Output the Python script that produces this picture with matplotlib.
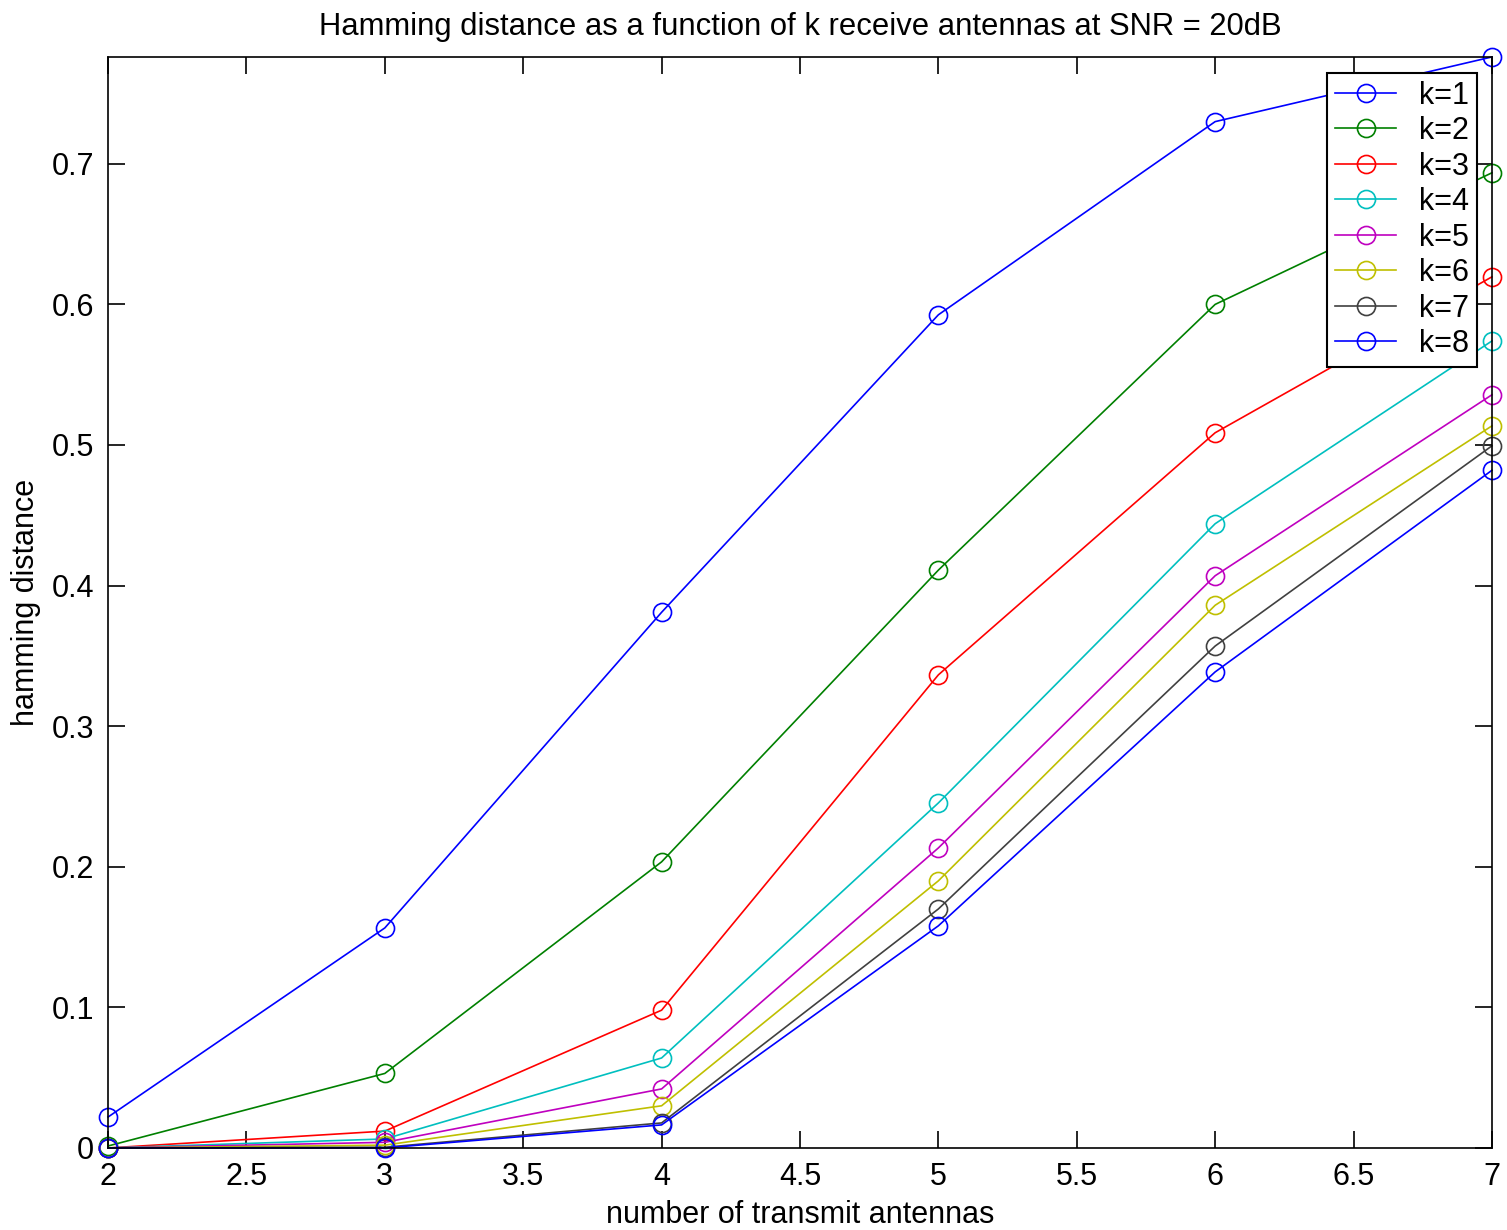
import matplotlib
matplotlib.use('Agg')
import matplotlib.pyplot as plt
from matplotlib.ticker import FormatStrFormatter

plt.rcParams['font.family'] = ['Liberation Sans', 'DejaVu Sans']

# number of transmit antennas
n_tx = [2, 3, 4, 5, 6, 7]

# hamming distance for k receive antennas
k1 = [0.022, 0.1565, 0.381, 0.5926, 0.730, 0.776]
k2 = [0.0014, 0.053, 0.2035, 0.411, 0.600, 0.6936]
k3 = [0.0, 0.012, 0.098, 0.3365, 0.5087, 0.6196]
k4 = [0.0, 0.0064, 0.064, 0.2454, 0.444, 0.574]
k5 = [0.0, 0.004, 0.042, 0.2134, 0.407, 0.5357]
k6 = [0.0, 0.002, 0.030, 0.190, 0.386, 0.5136]
k7 = [0.0, 0.0005, 0.0178, 0.170, 0.357, 0.4994]
k8 = [0.0, 0.0, 0.0164, 0.158, 0.3386, 0.482]

series = [k1, k2, k3, k4, k5, k6, k7, k8]
labels = ['k=%d' % i for i in range(1, 9)]
colors = ['#0000ff', '#008000', '#ff0000', '#00bfbf',
          '#bf00bf', '#bfbf00', '#404040', '#0000ff']

fig = plt.figure(figsize=(15.07, 12.3), dpi=100)
ax = fig.add_axes([0.0717, 0.0667, 0.9183, 0.887])

for y, lab, c in zip(series, labels, colors):
    ax.plot(n_tx, y, '-o', color=c, mfc='none', mec=c, ms=13, lw=1.2,
            mew=1.2, label=lab, clip_on=False)

ax.set_xlim(2, 7)
ax.set_ylim(0, 0.776)
ax.set_xticks([2, 2.5, 3, 3.5, 4, 4.5, 5, 5.5, 6, 6.5, 7])
ax.set_yticks([0, 0.1, 0.2, 0.3, 0.4, 0.5, 0.6, 0.7])
ax.xaxis.set_major_formatter(FormatStrFormatter('%g'))
ax.yaxis.set_major_formatter(FormatStrFormatter('%g'))
ax.tick_params(direction='in', top=True, right=True, length=12, width=1.2,
               labelsize=22, pad=10)
for s in ax.spines.values():
    s.set_linewidth(1.2)

ax.set_title('Hamming distance as a function of k receive antennas at SNR = 20dB',
             fontsize=22.3, pad=16)
ax.set_xlabel('number of transmit antennas', fontsize=22, labelpad=6)
ax.set_ylabel('hamming distance', fontsize=22, labelpad=8)

leg = ax.legend(loc='upper right', bbox_to_anchor=(0.989, 0.9853),
                fontsize=22, fancybox=False, framealpha=1, edgecolor='black',
                handlelength=2.0, borderpad=0.25, labelspacing=0.18,
                handletextpad=0.75, borderaxespad=0)
leg.get_frame().set_linewidth(1.5)

fig.savefig('out.png', dpi=100)
